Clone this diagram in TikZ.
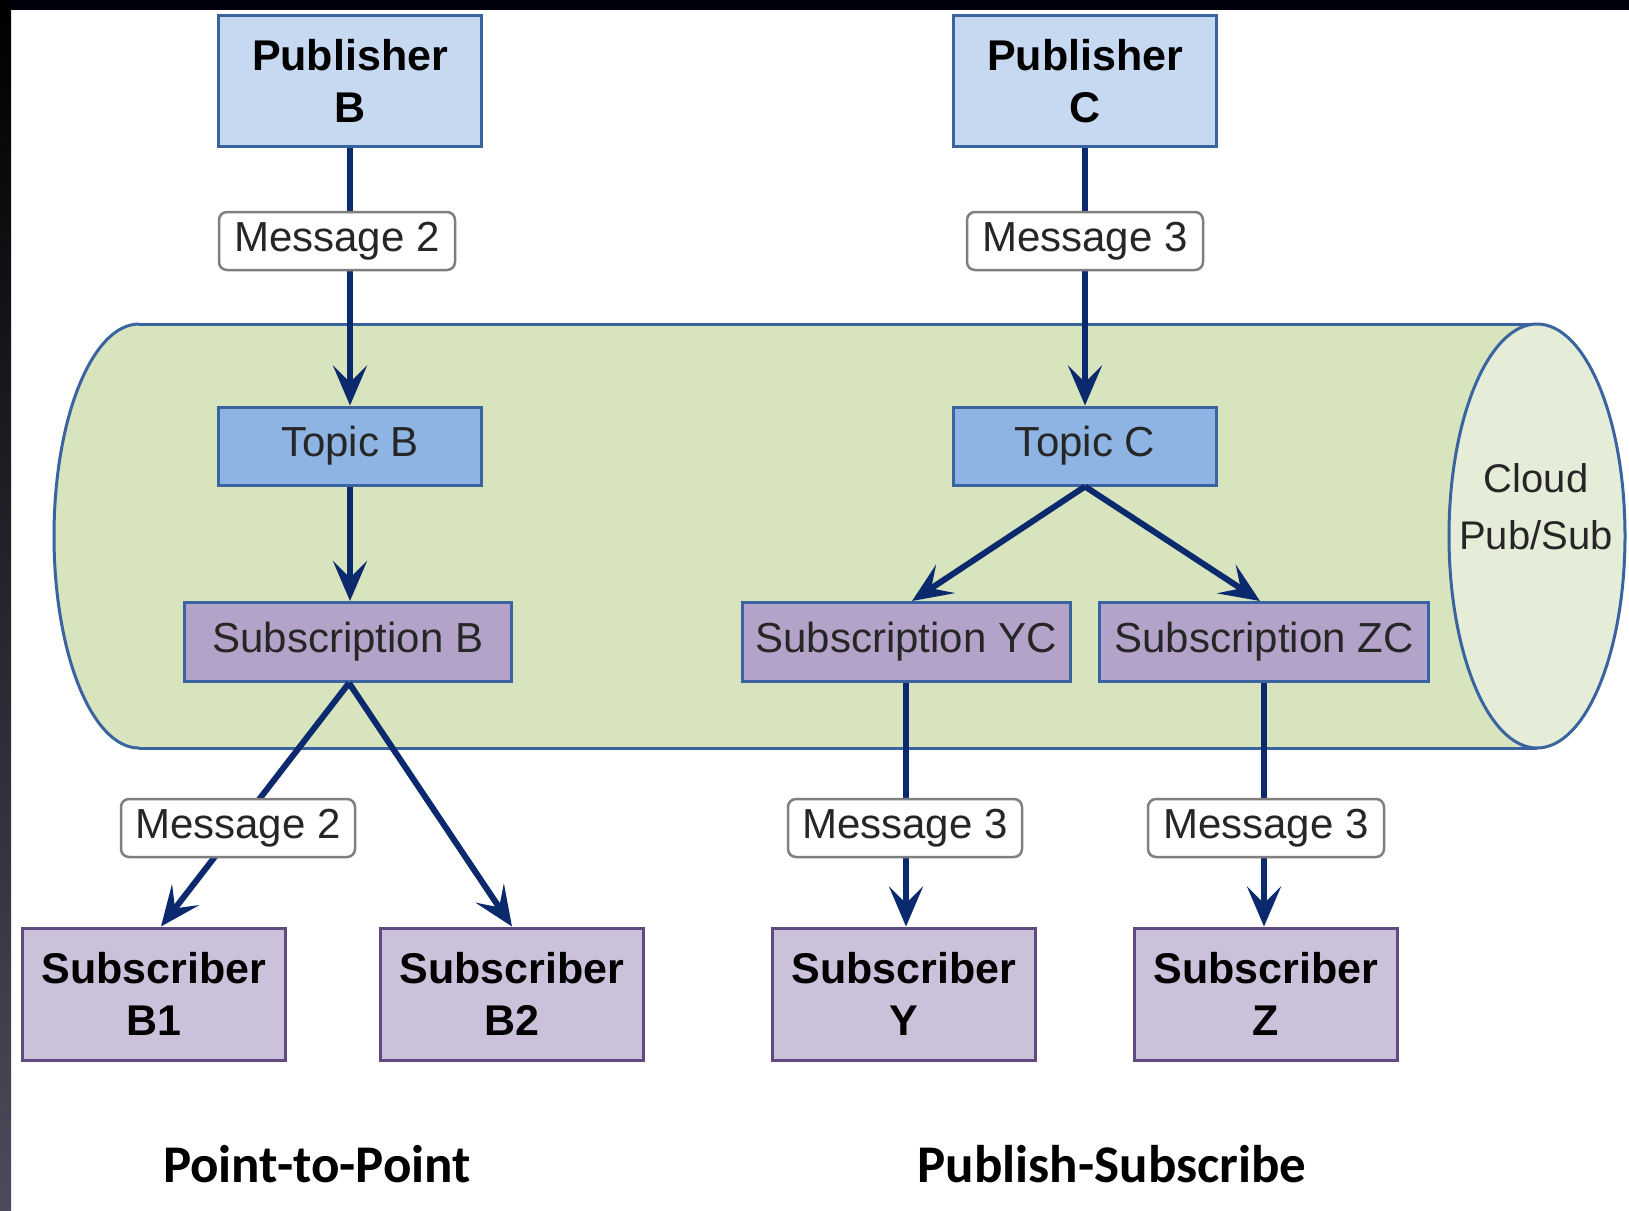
\documentclass[tikz,border=0pt]{standalone}
\usepackage{fontspec}
\setmainfont{Liberation Sans}
\newfontfamily\calib{Carlito}
\usetikzlibrary{arrows.meta}
\definecolor{pubfill}{HTML}{C6D9F1}
\definecolor{boxblue}{HTML}{3A64A0}
\definecolor{topicfill}{HTML}{8EB4E3}
\definecolor{subnfill}{HTML}{B4A3C8}
\definecolor{subrfill}{HTML}{CCC1DA}
\definecolor{subrline}{HTML}{5F4B80}
\definecolor{navy}{HTML}{0B2A6E}
\definecolor{cylfill}{HTML}{D7E4BD}
\definecolor{cylend}{HTML}{E5EDD8}
\definecolor{msgline}{HTML}{7F7F7F}
\definecolor{txt}{HTML}{262626}
\tikzset{
  x=1pt, y=-1pt,
  boldtxt/.style={font=\fontsize{43}{52}\selectfont\bfseries, text=black, align=center, inner sep=0pt},
  regtxt/.style={font=\fontsize{42}{50}\selectfont, text=txt, align=center, inner sep=0pt},
  pubbox/.style={boldtxt, draw=boxblue, fill=pubfill, line width=3pt, minimum width=263pt, minimum height=131pt},
  topicbox/.style={regtxt, draw=boxblue, fill=topicfill, line width=3pt, minimum width=263pt, minimum height=78pt},
  subnbox/.style={regtxt, draw=boxblue, fill=subnfill, line width=3pt, minimum height=79pt},
  subrbox/.style={boldtxt, draw=subrline, fill=subrfill, line width=3pt, minimum width=263pt, minimum height=132pt},
  msgbox/.style={regtxt, draw=msgline, fill=white, line width=2.5pt, rounded corners=8pt, minimum height=58pt},
  flow/.style={draw=navy, line width=6pt, -{Stealth[length=40pt, width=34pt, inset=17pt]}},
  caption/.style={font=\calib\fontsize{53}{60}\selectfont\bfseries, text=black, inner sep=0pt}
}
\begin{document}
\begin{tikzpicture}
\useasboundingbox (0,0) rectangle (1629,1210);
\fill[white] (0,0) rectangle (1629,1210);
% dark frame
\fill[black!95!blue] (0,0) rectangle (1629,10);
\shade[top color=black, bottom color={rgb,255:red,75;green,75;blue,92}] (0,0) rectangle (11,1210);
% cylinder body
\fill[cylfill] (139,324) rectangle (1537,748);
\fill[cylfill] (139,536) ellipse [x radius=85, y radius=212];
\begin{scope}
  \clip (0,0) rectangle (139,1210);
  \draw[boxblue, line width=3pt] (139,536) ellipse [x radius=85, y radius=212];
\end{scope}
\draw[boxblue, line width=3pt] (139,324) -- (1537,324);
\draw[boxblue, line width=3pt] (139,748) -- (1537,748);
\draw[boxblue, line width=3pt, fill=cylend] (1537,536) ellipse [x radius=88, y radius=212];
\node[regtxt, font=\fontsize{40}{57}\selectfont] (cloud) at (1536,507) {Cloud\\Pub/Sub};
% boxes
\node[pubbox] (pubB) at (350,81) {Publisher\\B};
\node[pubbox] (pubC) at (1085,81) {Publisher\\C};
\node[topicbox] (topicB) at (350,446) {Topic B};
\node[topicbox] (topicC) at (1085,446) {Topic C};
\node[subnbox, minimum width=327pt] (subB) at (348,642) {Subscription B};
\node[subnbox, minimum width=328pt] (subYC) at (906,642) {Subscription YC};
\node[subnbox, minimum width=329pt] (subZC) at (1264,642) {Subscription ZC};
\node[subrbox] (sB1) at (154,994) {Subscriber\\B1};
\node[subrbox] (sB2) at (512,994) {Subscriber\\B2};
\node[subrbox] (sY) at (904,994) {Subscriber\\Y};
\node[subrbox] (sZ) at (1266,994) {Subscriber\\Z};
% connectors
\coordinate (bdown) at ([xshift=1pt]subB.south);
\draw[flow] (pubB.south) -- (topicB.north);
\draw[flow] (topicB.south) -- (topicB.south |- subB.north);
\draw[flow] (bdown) -- ([xshift=7pt]sB1.north);
\draw[flow] (bdown) -- (sB2.north);
\draw[flow] (pubC.south) -- (topicC.north);
\draw[flow] (topicC.south) -- ([xshift=6pt]subYC.north);
\draw[flow] (topicC.south) -- ([xshift=-4pt]subZC.north);
\draw[flow] (subYC.south) -- (subYC.south |- sY.north);
\draw[flow] (subZC.south) -- (subZC.south |- sZ.north);
% message labels
\node[msgbox, minimum width=236pt] (m2top) at (337,241) {Message 2};
\node[msgbox, minimum width=236pt] (m3top) at (1085,241) {Message 3};
\node[msgbox, minimum width=234pt] (m2low) at (238,828) {Message 2};
\node[msgbox, minimum width=234pt] (m3y) at (905,828) {Message 3};
\node[msgbox, minimum width=236pt] (m3z) at (1266,828) {Message 3};
% captions
\node[caption] (cap1) at (317,1164) {Point-to-Point};
\node[caption] (cap2) at (1112,1164) {Publish-Subscribe};
\end{tikzpicture}
\end{document}
